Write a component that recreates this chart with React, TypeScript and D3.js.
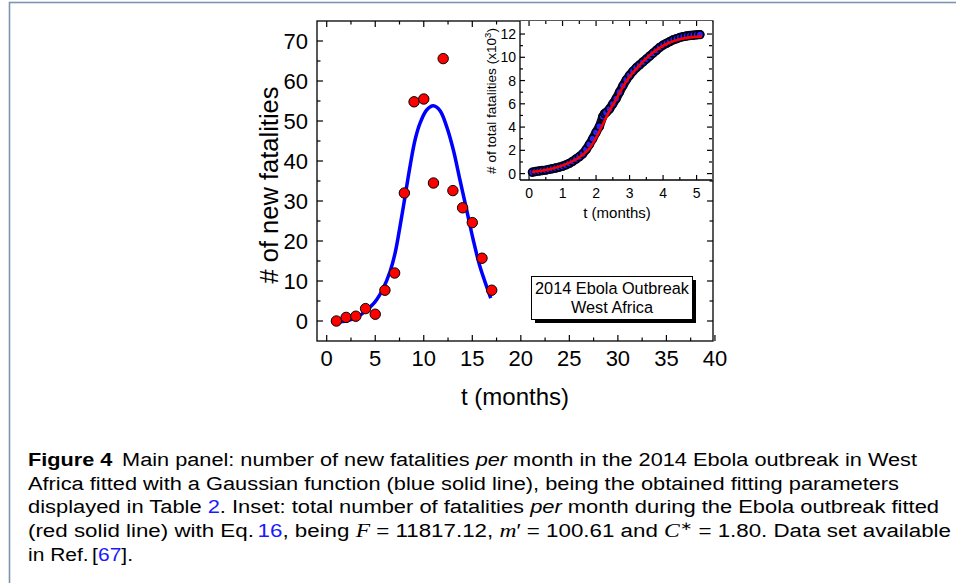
import React from 'react';
import * as d3 from 'd3';

// ---- Main panel data: new fatalities per month ----
const months = [1, 2, 3, 4, 5, 6, 7, 8, 9, 10, 11, 12, 13, 14, 15, 16, 17];
const newFatalities = [0, 0.9, 1.2, 3.1, 1.7, 7.7, 12, 32, 54.8, 55.5, 34.5, 65.6, 32.6, 28.3, 24.6, 15.7, 7.7];

// Gaussian fit curve
const gaussFitT = [0.93, 2.06, 3.09, 4.12, 4.98, 5.83, 6.52, 7.04, 7.55, 8.07, 8.58, 9.1, 9.61, 10.3, 10.98, 11.67, 12.36, 13.05, 13.73, 14.42, 15.1, 15.79, 16.48, 16.9];
const gaussFitV = [-0.33, 0.08, 0.9, 2.75, 4.8, 8.2, 12.3, 16.9, 23.6, 31.1, 38.6, 45.25, 49.4, 52.75, 53.8, 52.6, 48.6, 42.75, 35.25, 27.75, 20.25, 13.6, 8.6, 5.7];

// ---- Inset data: total fatalities (x10^3) ----
const insetT = [0.1, 0.2, 0.3, 0.4, 0.5, 0.6, 0.7, 0.8, 0.9, 1.0, 1.1, 1.2, 1.3, 1.4, 1.5, 1.6, 1.7, 1.8, 1.9, 2.0, 2.1, 2.2, 2.25, 2.3, 2.4, 2.5, 2.6, 2.7, 2.8, 2.9, 3.0, 3.1, 3.2, 3.3, 3.4, 3.5, 3.6, 3.7, 3.8, 3.9, 4.0, 4.1, 4.2, 4.3, 4.4, 4.5, 4.6, 4.7, 4.8, 4.9, 5.0, 5.1];
const insetTotal = [0.12, 0.18, 0.22, 0.27, 0.3, 0.36, 0.42, 0.48, 0.55, 0.63, 0.75, 0.88, 1.05, 1.25, 1.45, 1.7, 2.05, 2.5, 3.0, 3.55, 4.05, 4.9, 5.15, 5.25, 5.55, 6.0, 6.45, 7.0, 7.55, 8.05, 8.45, 8.8, 9.1, 9.35, 9.6, 9.85, 10.1, 10.35, 10.6, 10.85, 11.05, 11.2, 11.35, 11.5, 11.6, 11.7, 11.78, 11.83, 11.87, 11.9, 11.93, 11.95];

// Fit (red line) in the inset
const insetFitT = [0.08, 0.58, 1.07, 1.47, 1.77, 2.02, 2.22, 2.42, 2.62, 2.81, 3.01, 3.26, 3.56, 3.86, 4.16, 4.56, 5.16];
const insetFitV = [0.14, 0.35, 0.77, 1.34, 2.06, 3.2, 4.35, 5.5, 6.5, 7.5, 8.37, 9.2, 10.08, 10.74, 11.23, 11.6, 11.8];

// Tick values
const mainXTicks = [0, 5, 10, 15, 20, 25, 30, 35, 40];
const mainXMinor = [2.5, 7.5, 12.5, 17.5, 22.5, 27.5, 32.5, 37.5];
const mainYTicks = [0, 10, 20, 30, 40, 50, 60, 70];
const mainYMinor = [5, 15, 25, 35, 45, 55, 65];
const insetXTicks = [0, 1, 2, 3, 4, 5];
const insetXMinor = [0.5, 1.5, 2.5, 3.5, 4.5];
const insetYTicks = [0, 2, 4, 6, 8, 10, 12];
const insetYMinor = [1, 3, 5, 7, 9, 11];

const SANS = 'Liberation Sans, Arial, Helvetica, sans-serif';
const SERIF = 'Liberation Serif, DejaVu Serif, serif';
const LINK = '#1a1aff';

export default function App() {
  const W = 956;
  const H = 583;

  const x = d3.scaleLinear().domain([-1, 39.8]).range([317, 713]);
  const y = d3.scaleLinear().domain([-5, 75]).range([341, 21]);
  const ix = d3.scaleLinear().domain([-0.27, 5.46]).range([520, 712]);
  const iy = d3.scaleLinear().domain([-0.55, 13.12]).range([180, 21]);

  const [x0, x1] = x.range();
  const [y0, y1] = y.range(); // y0 bottom, y1 top
  const [ix0, ix1] = ix.range();
  const [iy0, iy1] = iy.range();

  const gaussLine = d3
    .line<number>()
    .x((_, i) => x(gaussFitT[i]))
    .y((d) => y(d))
    .curve(d3.curveCatmullRom.alpha(0.5));

  const insetFitLine = d3
    .line<number>()
    .x((_, i) => ix(insetFitT[i]))
    .y((d) => iy(d))
    .curve(d3.curveCatmullRom.alpha(0.5));

  // dense markers merge into a band: draw their envelope under the markers
  const insetBand = d3
    .line<number>()
    .x((_, i) => ix(insetT[i]))
    .y((d) => iy(d))
    .curve(d3.curveLinear);

  const MAJ = 6;
  const MIN = 3.5;
  const IMAJ = 5;
  const IMIN = 3;

  const tickStroke = { stroke: '#000', strokeWidth: 1.2 };

  return (
    <svg
      width={W}
      height={H}
      style={{ position: 'absolute', left: 0, top: 0, background: '#fff' }}
      xmlns="http://www.w3.org/2000/svg"
    >
      <rect x={0} y={0} width={W} height={H} fill="#fff" />
      {/* outer figure frame */}
      <rect x={9.5} y={2.5} width={W + 20} height={H + 20} fill="none" stroke="#7d95b3" strokeWidth={1.6} />

      {/* ---------- Main panel ---------- */}
      <path d={gaussLine(gaussFitV) || ''} fill="none" stroke="#0000ff" strokeWidth={3.5} />
      {newFatalities.map((v, i) => (
        <circle key={i} cx={x(months[i])} cy={y(v)} r={5.2} fill="#ff0000" stroke="#000" strokeWidth={1} />
      ))}

      {mainXTicks.map((t) => (
        <g key={'mx' + t}>
          <line x1={x(t)} x2={x(t)} y1={y0} y2={y0 - MAJ} {...tickStroke} />
          {x(t) < ix0 && <line x1={x(t)} x2={x(t)} y1={y1} y2={y1 + MAJ} {...tickStroke} />}
          <text x={x(t)} y={366} textAnchor="middle" fontSize={22} fontFamily={SANS}>
            {t}
          </text>
        </g>
      ))}
      {mainXMinor.map((t) => (
        <g key={'mxm' + t}>
          <line x1={x(t)} x2={x(t)} y1={y0} y2={y0 - MIN} {...tickStroke} />
          {x(t) < ix0 && <line x1={x(t)} x2={x(t)} y1={y1} y2={y1 + MIN} {...tickStroke} />}
        </g>
      ))}
      {mainYTicks.map((v) => (
        <g key={'my' + v}>
          <line x1={x0} x2={x0 + MAJ} y1={y(v)} y2={y(v)} {...tickStroke} />
          {y(v) > iy0 && <line x1={x1} x2={x1 - MAJ} y1={y(v)} y2={y(v)} {...tickStroke} />}
          <text x={308} y={y(v)} dy="0.36em" textAnchor="end" fontSize={22} fontFamily={SANS}>
            {v}
          </text>
        </g>
      ))}
      {mainYMinor.map((v) => (
        <g key={'mym' + v}>
          <line x1={x0} x2={x0 + MIN} y1={y(v)} y2={y(v)} {...tickStroke} />
          {y(v) > iy0 && <line x1={x1} x2={x1 - MIN} y1={y(v)} y2={y(v)} {...tickStroke} />}
        </g>
      ))}

      <rect x={x0} y={y1} width={x1 - x0} height={y0 - y1} fill="none" stroke="#000" strokeWidth={1.3} />

      <text x={515} y={405} textAnchor="middle" fontSize={24} fontFamily={SANS}>
        t (months)
      </text>
      <text transform="translate(278,185) rotate(-90)" textAnchor="middle" fontSize={25.5} fontFamily={SANS}>
        # of new fatalities
      </text>

      {/* label box */}
      <rect x={535} y={280} width={161} height={43} fill="#000" />
      <rect x={531.5} y={276.5} width={161} height={43} fill="#fff" stroke="#000" strokeWidth={1} />
      <text x={612} y={294} textAnchor="middle" fontSize={16.3} fontFamily={SANS}>
        2014 Ebola Outbreak
      </text>
      <text x={612} y={313} textAnchor="middle" fontSize={16.3} fontFamily={SANS}>
        West Africa
      </text>

      {/* ---------- Inset ---------- */}
      <rect x={ix0} y={iy1} width={ix1 - ix0} height={iy0 - iy1} fill="#fff" />
      <path
        d={insetBand(insetTotal) || ''}
        fill="none"
        stroke="#0a0a30"
        strokeWidth={9}
        strokeLinecap="round"
        strokeLinejoin="round"
      />
      {insetTotal.map((v, i) => (
        <circle key={'ip' + i} cx={ix(insetT[i])} cy={iy(v)} r={3.8} fill="#2424ff" stroke="#00001a" strokeWidth={1.8} />
      ))}
      <path d={insetFitLine(insetFitV) || ''} fill="none" stroke="#ff0000" strokeWidth={2.6} />

      {insetXTicks.map((t) => (
        <g key={'ix' + t}>
          <line x1={ix(t)} x2={ix(t)} y1={iy0} y2={iy0 - IMAJ} {...tickStroke} />
          <line x1={ix(t)} x2={ix(t)} y1={iy1} y2={iy1 + IMAJ} {...tickStroke} />
          <text x={ix(t)} y={198} textAnchor="middle" fontSize={14} fontFamily={SANS}>
            {t}
          </text>
        </g>
      ))}
      {insetXMinor.map((t) => (
        <g key={'ixm' + t}>
          <line x1={ix(t)} x2={ix(t)} y1={iy0} y2={iy0 - IMIN} {...tickStroke} />
          <line x1={ix(t)} x2={ix(t)} y1={iy1} y2={iy1 + IMIN} {...tickStroke} />
        </g>
      ))}
      {insetYTicks.map((v) => (
        <g key={'iy' + v}>
          <line x1={ix0} x2={ix0 + IMAJ} y1={iy(v)} y2={iy(v)} {...tickStroke} />
          <line x1={ix1} x2={ix1 - IMAJ} y1={iy(v)} y2={iy(v)} {...tickStroke} />
          <text x={516} y={iy(v)} dy="0.36em" textAnchor="end" fontSize={14} fontFamily={SANS}>
            {v}
          </text>
        </g>
      ))}
      {insetYMinor.map((v) => (
        <g key={'iym' + v}>
          <line x1={ix0} x2={ix0 + IMIN} y1={iy(v)} y2={iy(v)} {...tickStroke} />
          <line x1={ix1} x2={ix1 - IMIN} y1={iy(v)} y2={iy(v)} {...tickStroke} />
        </g>
      ))}
      <line x1={ix0} x2={ix0} y1={iy1} y2={iy0} stroke="#000" strokeWidth={1.3} />
      <line x1={ix0} x2={ix1} y1={iy0} y2={iy0} stroke="#000" strokeWidth={1.3} />

      <text x={617} y={218} textAnchor="middle" fontSize={15} fontFamily={SANS}>
        t (months)
      </text>
      <text transform="translate(495.5,101) rotate(-90)" textAnchor="middle" fontSize={13.6} fontFamily={SANS}>
        # of total fatalities (x10
        <tspan dy={-5} fontSize={9.5}>3</tspan>
        <tspan dy={5}>)</tspan>
      </text>

      {/* ---------- Caption ---------- */}
      <g fontFamily={SANS} fontSize={18} fill="#000">
        <text x={28} y={466} textLength={889} lengthAdjust="spacingAndGlyphs">
          <tspan fontWeight="bold">Figure 4</tspan>
          <tspan dx={8}>Main panel: number of new fatalities </tspan>
          <tspan fontStyle="italic">per</tspan>
          <tspan> month in the 2014 Ebola outbreak in West</tspan>
        </text>
        <text x={28} y={489.5} textLength={871} lengthAdjust="spacingAndGlyphs">
          Africa fitted with a Gaussian function (blue solid line), being the obtained fitting parameters
        </text>
        <text x={28} y={513} textLength={911} lengthAdjust="spacingAndGlyphs">
          <tspan>displayed in Table </tspan>
          <tspan fill={LINK}>2</tspan>
          <tspan>. Inset: total number of fatalities </tspan>
          <tspan fontStyle="italic">per</tspan>
          <tspan> month during the Ebola outbreak fitted</tspan>
        </text>
        <text x={28} y={537} textLength={923} lengthAdjust="spacingAndGlyphs">
          <tspan>(red solid line) with Eq.</tspan>
          <tspan dx={3} fill={LINK}>16</tspan>
          <tspan>, being </tspan>
          <tspan fontFamily={SERIF} fontStyle="italic" fontSize={19}>F</tspan>
          <tspan> = 11817.12, </tspan>
          <tspan fontFamily={SERIF} fontStyle="italic" fontSize={19}>m</tspan>
          <tspan>′ = 100.61 and </tspan>
          <tspan fontFamily={SERIF} fontStyle="italic" fontSize={19}>C</tspan>
          <tspan dy={-7} fontSize={12}>∗</tspan>
          <tspan dy={7}> = 1.80. Data set available</tspan>
        </text>
        <text x={28} y={560.5} textLength={105} lengthAdjust="spacingAndGlyphs">
          <tspan>in Ref.</tspan>
          <tspan dx={3}>[</tspan>
          <tspan fill={LINK}>67</tspan>
          <tspan>].</tspan>
        </text>
      </g>
    </svg>
  );
}
